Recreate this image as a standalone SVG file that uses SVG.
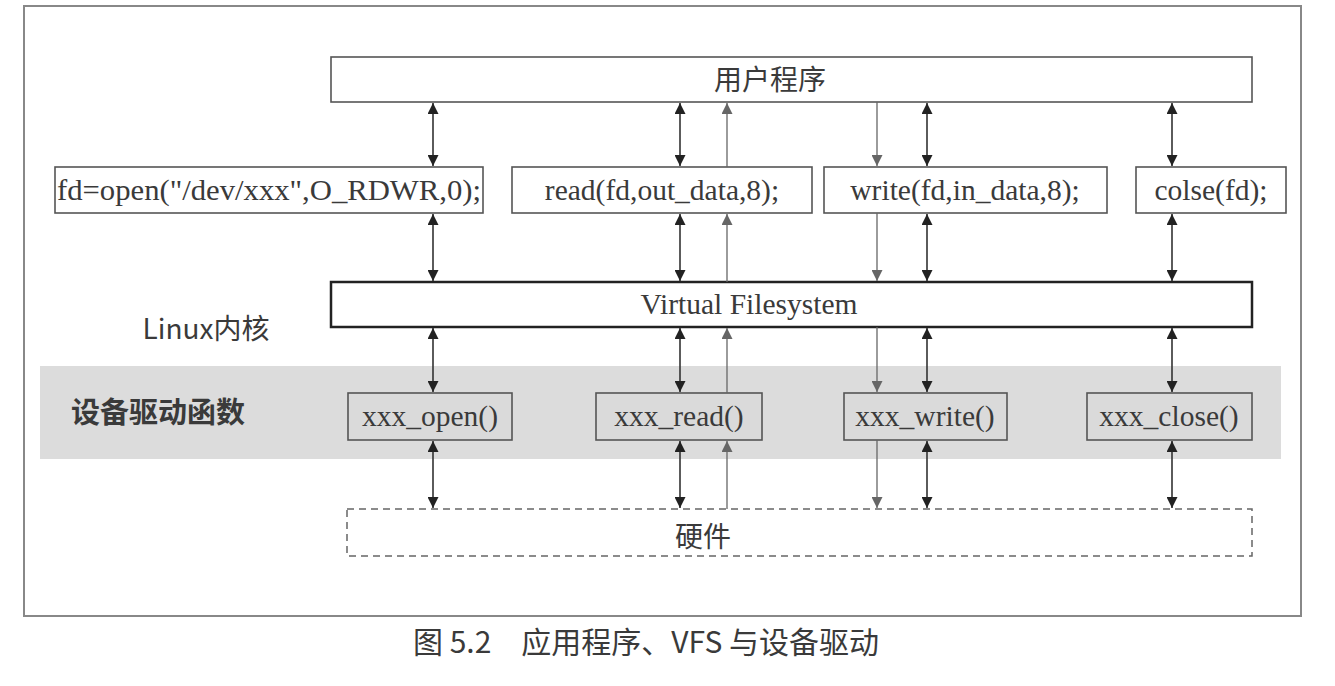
<svg xmlns="http://www.w3.org/2000/svg" width="1335" height="686" viewBox="0 0 1335 686">
<style>
.t{font-family:"Liberation Serif","Noto Sans CJK SC",serif;font-size:29.5px;fill:#3a3a3a;text-anchor:middle}
.cn{font-family:"Noto Sans CJK SC","Liberation Serif",sans-serif;font-size:28px;fill:#3a3a3a;text-anchor:middle}
.box{fill:#fff;stroke:#555;stroke-width:1.6}
.dbox{fill:#dadada;stroke:#555;stroke-width:1.6}
.dl{stroke:#333;stroke-width:1.6;fill:none;marker-start:url(#ah);marker-end:url(#ah)}
.sl{stroke:#666;stroke-width:1.3;fill:none;marker-end:url(#al)}
</style>
<defs>
<marker id="ah" markerUnits="userSpaceOnUse" markerWidth="11" markerHeight="11" refX="10" refY="5" orient="auto-start-reverse" viewBox="0 0 10 10"><path d="M0,0 L10,5 L0,10 z" fill="#222"/></marker>
<marker id="al" markerUnits="userSpaceOnUse" markerWidth="11" markerHeight="11" refX="10" refY="5" orient="auto-start-reverse" viewBox="0 0 10 10"><path d="M0,0 L10,5 L0,10 z" fill="#666"/></marker>
</defs>
<rect x="0" y="0" width="1335" height="686" fill="#fff"/>
<rect id="frame" x="24" y="6" width="1277" height="610" fill="none" stroke="#888" stroke-width="2"/>
<rect id="band" x="40" y="366" width="1241" height="93" fill="#dcdcdc"/>

<g id="user">
<rect class="box" x="331" y="57" width="921" height="45"/>
<text class="cn" x="770" y="90">用户程序</text>
</g>
<g id="open">
<rect class="box" x="55" y="167" width="428" height="46"/>
<text class="t" x="269" y="200" textLength="424" lengthAdjust="spacingAndGlyphs">fd=open("/dev/xxx",O_RDWR,0);</text>
</g>
<g id="read">
<rect class="box" x="512" y="167" width="300" height="46"/>
<text class="t" x="662" y="200">read(fd,out_data,8);</text>
</g>
<g id="write">
<rect class="box" x="824" y="167" width="283" height="46"/>
<text class="t" x="965" y="200">write(fd,in_data,8);</text>
</g>
<g id="close">
<rect class="box" x="1136" y="167" width="150" height="46"/>
<text class="t" x="1211" y="200">colse(fd);</text>
</g>
<g id="vfs">
<rect x="331" y="282" width="921" height="45" fill="#fff" stroke="#222" stroke-width="2.5"/>
<text class="t" x="749" y="314">Virtual Filesystem</text>
</g>
<g id="kernel">
<text class="cn" x="206" y="339">Linux内核</text>
</g>
<g id="drvlabel">
<text class="cn" x="158" y="423" style="font-weight:bold;font-size:29px">设备驱动函数</text>
</g>
<g id="xopen">
<rect class="dbox" x="348" y="393" width="164" height="47"/>
<text class="t" x="430" y="426">xxx_open()</text>
</g>
<g id="xread">
<rect class="dbox" x="596" y="393" width="166" height="47"/>
<text class="t" x="679" y="426">xxx_read()</text>
</g>
<g id="xwrite">
<rect class="dbox" x="844" y="393" width="163" height="47"/>
<text class="t" x="925" y="426">xxx_write()</text>
</g>
<g id="xclose">
<rect class="dbox" x="1087" y="393" width="165" height="47"/>
<text class="t" x="1169" y="426">xxx_close()</text>
</g>
<g id="hw">
<rect x="347" y="509" width="905" height="47" fill="none" stroke="#666" stroke-width="1.5" stroke-dasharray="7,5"/>
<text class="cn" x="703" y="547">硬件</text>
</g>

<g id="connectors">
<line class="dl" x1="433" y1="103" x2="433" y2="166"/>
<line class="dl" x1="433" y1="214" x2="433" y2="281"/>
<line class="dl" x1="433" y1="328" x2="433" y2="392"/>
<line class="dl" x1="433" y1="441" x2="433" y2="508"/>

<line class="dl" x1="680" y1="103" x2="680" y2="166"/>
<line class="dl" x1="680" y1="214" x2="680" y2="281"/>
<line class="dl" x1="680" y1="328" x2="680" y2="392"/>
<line class="dl" x1="680" y1="441" x2="680" y2="508"/>

<line class="sl" x1="727" y1="167" x2="727" y2="103"/>
<line class="sl" x1="727" y1="282" x2="727" y2="214"/>
<line class="sl" x1="727" y1="393" x2="727" y2="328"/>
<line class="sl" x1="727" y1="509" x2="727" y2="441"/>

<line class="sl" x1="877" y1="102" x2="877" y2="166"/>
<line class="sl" x1="877" y1="213" x2="877" y2="281"/>
<line class="sl" x1="877" y1="327" x2="877" y2="392"/>
<line class="sl" x1="877" y1="440" x2="877" y2="508"/>

<line class="dl" x1="927" y1="103" x2="927" y2="166"/>
<line class="dl" x1="927" y1="214" x2="927" y2="281"/>
<line class="dl" x1="927" y1="328" x2="927" y2="392"/>
<line class="dl" x1="927" y1="441" x2="927" y2="508"/>

<line class="dl" x1="1172" y1="103" x2="1172" y2="166"/>
<line class="dl" x1="1172" y1="214" x2="1172" y2="281"/>
<line class="dl" x1="1172" y1="328" x2="1172" y2="392"/>
<line class="dl" x1="1172" y1="441" x2="1172" y2="508"/>
</g>

<text class="cn" x="646" y="653" style="font-size:30px">图 5.2　应用程序、VFS 与设备驱动</text>
</svg>
